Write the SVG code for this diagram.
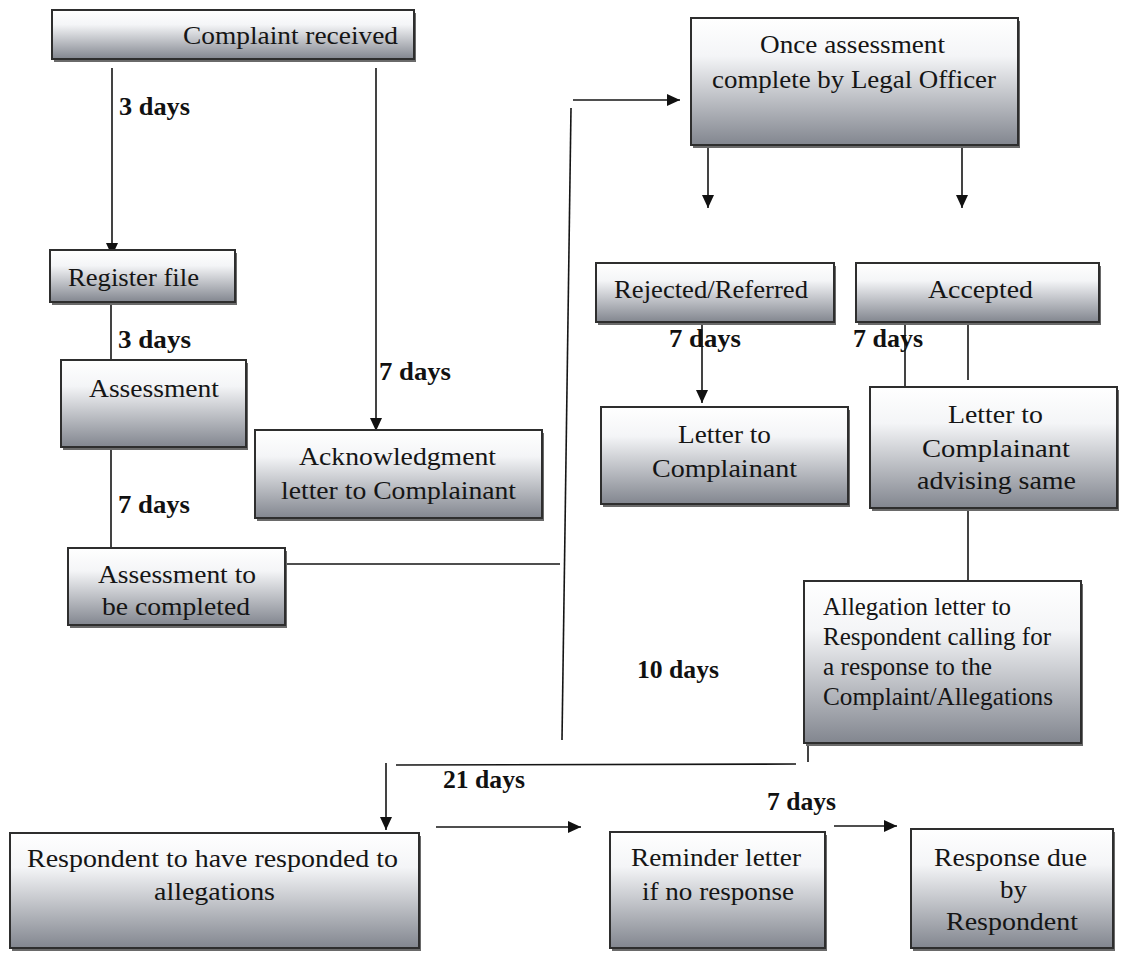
<svg xmlns="http://www.w3.org/2000/svg" width="1121" height="955" viewBox="0 0 1121 955">
<defs>
<linearGradient id="g" x1="0" y1="0" x2="0" y2="1">
<stop offset="0" stop-color="#ffffff"/>
<stop offset="0.3" stop-color="#f4f5f7"/>
<stop offset="1" stop-color="#82868f"/>
</linearGradient>
<marker id="ah" markerUnits="userSpaceOnUse" markerWidth="13" markerHeight="12" refX="13" refY="6" orient="auto">
<path d="M0,0 L13,6 L0,12 z" fill="#111"/>
</marker>
<style>
.box{fill:url(#g);stroke:#2e2e2e;stroke-width:2}
.sh{fill:#6a6a6a}
.t{font-family:"Liberation Serif",serif;font-size:25px;fill:#151515}
.b{font-family:"Liberation Serif",serif;font-size:25px;font-weight:bold;fill:#111}
.c{fill:none;stroke:#151515;stroke-width:1.6}
.a{fill:none;stroke:#151515;stroke-width:1.6;marker-end:url(#ah)}
</style>
</defs>
<rect width="1121" height="955" fill="#ffffff"/>

<g id="connectors">
<line class="a" x1="112" y1="68" x2="112" y2="256"/>
<line class="a" x1="376" y1="68" x2="376" y2="431"/>
<line class="c" x1="111" y1="302" x2="111" y2="360"/>
<line class="c" x1="111" y1="442" x2="111" y2="548"/>
<line class="c" x1="276" y1="564" x2="560" y2="564"/>
<line class="c" x1="571" y1="108" x2="562" y2="740"/>
<line class="a" x1="573" y1="100" x2="680" y2="100"/>
<line class="a" x1="708" y1="133" x2="708" y2="208"/>
<line class="a" x1="962" y1="133" x2="962" y2="208"/>
<line class="a" x1="702" y1="322" x2="702" y2="403"/>
<line class="a" x1="905" y1="322" x2="905" y2="399"/>
<line class="c" x1="968" y1="322" x2="968" y2="380"/>
<line class="c" x1="968" y1="508" x2="968" y2="581"/>
<line class="c" x1="808" y1="743" x2="808" y2="762"/>
<line class="c" x1="396" y1="765" x2="796" y2="764"/>
<line class="a" x1="386" y1="763" x2="386" y2="830"/>
<line class="a" x1="436" y1="827" x2="581" y2="827"/>
<line class="a" x1="834" y1="826" x2="897" y2="826"/>
</g>

<g id="labels">
<text class="b" x="119" y="115" textLength="71" lengthAdjust="spacingAndGlyphs">3 days</text>
<text class="b" x="118" y="348" textLength="73" lengthAdjust="spacingAndGlyphs">3 days</text>
<text class="b" x="379" y="380" textLength="72" lengthAdjust="spacingAndGlyphs">7 days</text>
<text class="b" x="118" y="513" textLength="72" lengthAdjust="spacingAndGlyphs">7 days</text>
<text class="b" x="669" y="347" textLength="72" lengthAdjust="spacingAndGlyphs">7 days</text>
<text class="b" x="853" y="347" textLength="70" lengthAdjust="spacingAndGlyphs">7 days</text>
<text class="b" x="637" y="678" textLength="82" lengthAdjust="spacingAndGlyphs">10 days</text>
<text class="b" x="443" y="788" textLength="82" lengthAdjust="spacingAndGlyphs">21 days</text>
<text class="b" x="767" y="810" textLength="69" lengthAdjust="spacingAndGlyphs">7 days</text>
</g>

<g id="complaint-received">
<rect class="sh" x="54" y="13" width="362" height="49"/>
<rect class="box" x="52" y="10" width="362" height="49"/>
<text class="t" x="183" y="44" textLength="215" lengthAdjust="spacingAndGlyphs">Complaint received</text>
</g>

<g id="register-file">
<rect class="sh" x="52" y="253" width="185" height="52"/>
<rect class="box" x="50" y="250" width="185" height="52"/>
<text class="t" x="68" y="286" textLength="131" lengthAdjust="spacingAndGlyphs">Register file</text>
</g>

<g id="assessment">
<rect class="sh" x="63" y="363" width="185" height="87"/>
<rect class="box" x="61" y="360" width="185" height="87"/>
<text class="t" x="89" y="397" textLength="130" lengthAdjust="spacingAndGlyphs">Assessment</text>
</g>

<g id="acknowledgment">
<rect class="sh" x="257" y="433" width="287" height="88"/>
<rect class="box" x="255" y="430" width="287" height="88"/>
<text class="t" x="299" y="465" textLength="197" lengthAdjust="spacingAndGlyphs">Acknowledgment</text>
<text class="t" x="281" y="499" textLength="235" lengthAdjust="spacingAndGlyphs">letter to Complainant</text>
</g>

<g id="assessment-to-be-completed">
<rect class="sh" x="70" y="551" width="217" height="77"/>
<rect class="box" x="68" y="548" width="217" height="77"/>
<text class="t" x="98" y="583" textLength="158" lengthAdjust="spacingAndGlyphs">Assessment to</text>
<text class="t" x="102" y="615" textLength="148" lengthAdjust="spacingAndGlyphs">be completed</text>
</g>

<g id="once-assessment">
<rect class="sh" x="693" y="21" width="327" height="127"/>
<rect class="box" x="691" y="18" width="327" height="127"/>
<text class="t" x="760" y="53" textLength="185" lengthAdjust="spacingAndGlyphs">Once assessment</text>
<text class="t" x="712" y="88" textLength="284" lengthAdjust="spacingAndGlyphs">complete by Legal Officer</text>
</g>

<g id="rejected-referred">
<rect class="sh" x="598" y="266" width="238" height="59"/>
<rect class="box" x="596" y="263" width="238" height="59"/>
<text class="t" x="614" y="298" textLength="194" lengthAdjust="spacingAndGlyphs">Rejected/Referred</text>
</g>

<g id="accepted">
<rect class="sh" x="858" y="266" width="243" height="59"/>
<rect class="box" x="856" y="263" width="243" height="59"/>
<text class="t" x="928" y="298" textLength="105" lengthAdjust="spacingAndGlyphs">Accepted</text>
</g>

<g id="letter-rejected">
<rect class="sh" x="603" y="410" width="247" height="97"/>
<rect class="box" x="601" y="407" width="247" height="97"/>
<text class="t" x="678" y="443" textLength="93" lengthAdjust="spacingAndGlyphs">Letter to</text>
<text class="t" x="652" y="477" textLength="145" lengthAdjust="spacingAndGlyphs">Complainant</text>
</g>

<g id="letter-accepted">
<rect class="sh" x="872" y="390" width="247" height="121"/>
<rect class="box" x="870" y="387" width="247" height="121"/>
<text class="t" x="948" y="423" textLength="95" lengthAdjust="spacingAndGlyphs">Letter to</text>
<text class="t" x="922" y="457" textLength="148" lengthAdjust="spacingAndGlyphs">Complainant</text>
<text class="t" x="917" y="489" textLength="159" lengthAdjust="spacingAndGlyphs">advising same</text>
</g>

<g id="allegation-letter">
<rect class="sh" x="806" y="584" width="277" height="162"/>
<rect class="box" x="804" y="581" width="277" height="162"/>
<text class="t" x="823" y="615" textLength="188" lengthAdjust="spacingAndGlyphs">Allegation letter to</text>
<text class="t" x="823" y="645" textLength="228" lengthAdjust="spacingAndGlyphs">Respondent calling for</text>
<text class="t" x="823" y="675" textLength="169" lengthAdjust="spacingAndGlyphs">a response to the</text>
<text class="t" x="823" y="705" textLength="230" lengthAdjust="spacingAndGlyphs">Complaint/Allegations</text>
</g>

<g id="respondent-responded">
<rect class="sh" x="12" y="836" width="409" height="115"/>
<rect class="box" x="10" y="833" width="409" height="115"/>
<text class="t" x="27" y="867" textLength="371" lengthAdjust="spacingAndGlyphs">Respondent to have responded to</text>
<text class="t" x="154" y="900" textLength="121" lengthAdjust="spacingAndGlyphs">allegations</text>
</g>

<g id="reminder-letter">
<rect class="sh" x="612" y="835" width="215" height="116"/>
<rect class="box" x="610" y="832" width="215" height="116"/>
<text class="t" x="631" y="866" textLength="170" lengthAdjust="spacingAndGlyphs">Reminder letter</text>
<text class="t" x="642" y="900" textLength="152" lengthAdjust="spacingAndGlyphs">if no response</text>
</g>

<g id="response-due">
<rect class="sh" x="913" y="832" width="202" height="119"/>
<rect class="box" x="911" y="829" width="202" height="119"/>
<text class="t" x="934" y="866" textLength="153" lengthAdjust="spacingAndGlyphs">Response due</text>
<text class="t" x="1000" y="898" textLength="27" lengthAdjust="spacingAndGlyphs">by</text>
<text class="t" x="946" y="930" textLength="132" lengthAdjust="spacingAndGlyphs">Respondent</text>
</g>
</svg>
